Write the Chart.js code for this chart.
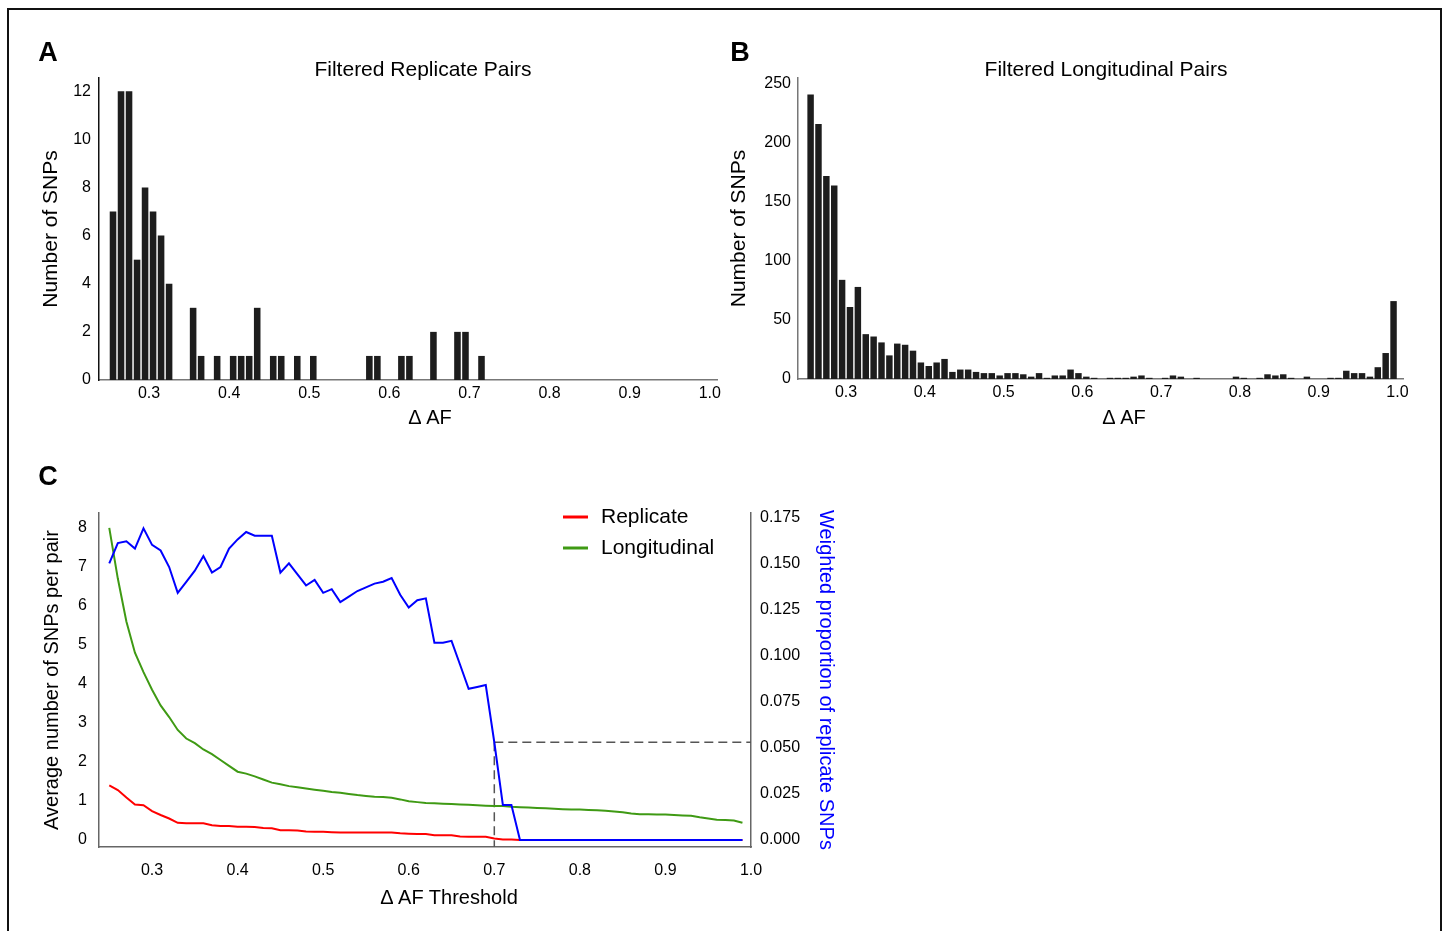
<!DOCTYPE html>
<html>
<head>
<meta charset="utf-8">
<script src="https://cdn.jsdelivr.net/npm/chart.js@4.4.1/dist/chart.umd.min.js"></script>
<style>
  html, body { margin: 0; padding: 0; background: #fff; }
  body { width: 1444px; height: 931px; position: relative; overflow: hidden;
         font-family: "Liberation Sans", Arial, sans-serif; color: #000; }
  .frame { position: absolute; left: 7px; top: 8px; width: 1431px; height: 960px;
           border: 2px solid #111; border-bottom: none; }
  canvas { position: absolute; }
  .lbl { position: absolute; transform: translate(-50%, -50%); white-space: nowrap; font-size: 20px; }
  .ttl { font-size: 21px; }
  .letter { font-weight: bold; font-size: 27px; }
</style>
</head>
<body>
<div class="frame"></div>

<canvas id="histRep" width="725" height="395" style="left:10px;top:40px;width:725px;height:395px"></canvas>
<canvas id="histLong" width="715" height="395" style="left:720px;top:40px;width:715px;height:395px"></canvas>
<canvas id="threshChart" width="850" height="460" style="left:10px;top:460px;width:850px;height:460px"></canvas>

<div class="lbl letter" style="left:48px;top:52px">A</div>
<div class="lbl letter" style="left:740px;top:52px">B</div>
<div class="lbl letter" style="left:48px;top:476px">C</div>
<div class="lbl ttl" style="left:423px;top:69px">Filtered Replicate Pairs</div>
<div class="lbl ttl" style="left:1106px;top:69px">Filtered Longitudinal Pairs</div>
<div class="lbl" style="left:430px;top:417px">Δ AF</div>
<div class="lbl" style="left:1124px;top:417px">Δ AF</div>
<div class="lbl" style="left:449px;top:897px">Δ AF Threshold</div>

<script>
// ---- data ----
// histogram bins (width 0.01), given by their centres
const binCenters = [
  0.255,0.265,0.275,0.285,0.295,0.305,0.315,0.325,0.335,0.345,
  0.355,0.365,0.375,0.385,0.395,0.405,0.415,0.425,0.435,0.445,
  0.455,0.465,0.475,0.485,0.495,0.505,0.515,0.525,0.535,0.545,
  0.555,0.565,0.575,0.585,0.595,0.605,0.615,0.625,0.635,0.645,
  0.655,0.665,0.675,0.685,0.695,0.705,0.715,0.725,0.735,0.745,
  0.755,0.765,0.775,0.785,0.795,0.805,0.815,0.825,0.835,0.845,
  0.855,0.865,0.875,0.885,0.895,0.905,0.915,0.925,0.935,0.945,
  0.955,0.965,0.975,0.985,0.995
];

// A: replicate pairs
const replicateCounts = [
  7,12,12,5,8,7,6,4,0,0,
  3,1,0,1,0,1,1,1,3,0,
  1,1,0,1,0,1,0,0,0,0,
  0,0,1,1,0,0,1,1,0,0,
  2,0,0,2,2,0,1,0,0,0,
  0,0,0,0,0,0,0,0,0,0,
  0,0,0,0,0,0,0,0,0,0,
  0,0,0,0,0
];

// B: longitudinal pairs
const longitudinalCounts = [
  241,216,172,164,84,61,78,38,36,31,
  20,30,29,24,14,11,14,17,6,8,
  8,6,5,5,3,5,5,4,2,5,
  1,3,3,8,5,2,1,0,1,1,
  1,2,3,1,0,1,3,2,0,1,
  0,0,0,0,2,1,0,1,4,3,
  4,1,0,2,0,0,1,1,7,5,
  5,2,10,22,66
];

// C: thresholds
const thresholds = [
  0.25,0.26,0.27,0.28,0.29,0.30,0.31,0.32,0.33,0.34,
  0.35,0.36,0.37,0.38,0.39,0.40,0.41,0.42,0.43,0.44,
  0.45,0.46,0.47,0.48,0.49,0.50,0.51,0.52,0.53,0.54,
  0.55,0.56,0.57,0.58,0.59,0.60,0.61,0.62,0.63,0.64,
  0.65,0.66,0.67,0.68,0.69,0.70,0.71,0.72,0.73,0.74,
  0.75,0.76,0.77,0.78,0.79,0.80,0.81,0.82,0.83,0.84,
  0.85,0.86,0.87,0.88,0.89,0.90,0.91,0.92,0.93,0.94,
  0.95,0.96,0.97,0.98,0.99
];

const replicateAvg = [
  1.40,1.28,1.09,0.91,0.89,0.74,0.64,0.55,0.44,0.43,
  0.43,0.43,0.38,0.36,0.36,0.34,0.34,0.33,0.31,0.30,
  0.25,0.25,0.24,0.22,0.21,0.21,0.20,0.19,0.19,0.19,
  0.19,0.19,0.19,0.19,0.17,0.16,0.15,0.15,0.12,0.12,
  0.12,0.09,0.08,0.08,0.08,0.04,0.01,0.01,0,0,
  0,0,0,0,0,0,0,0,0,0,
  0,0,0,0,0,0,0,0,0,0,
  0,0,0,0,0
];

const longitudinalAvg = [
  8.0,6.7,5.6,4.8,4.3,3.85,3.45,3.15,2.82,2.6,
  2.48,2.32,2.2,2.05,1.9,1.75,1.7,1.63,1.55,1.47,
  1.43,1.38,1.35,1.32,1.29,1.26,1.23,1.21,1.18,1.15,
  1.13,1.11,1.10,1.08,1.04,0.99,0.97,0.95,0.94,0.93,
  0.92,0.91,0.90,0.89,0.88,0.87,0.87,0.85,0.84,0.83,
  0.82,0.81,0.80,0.79,0.78,0.78,0.77,0.76,0.75,0.73,
  0.71,0.68,0.66,0.66,0.65,0.65,0.64,0.63,0.62,0.58,
  0.55,0.52,0.51,0.50,0.44
];

const weightedProp = [
  0.150,0.161,0.162,0.158,0.169,0.160,0.157,0.148,0.134,0.140,
  0.146,0.154,0.145,0.148,0.158,0.163,0.167,0.165,0.165,0.165,
  0.145,0.150,0.144,0.138,0.141,0.134,0.136,0.129,0.132,0.135,
  0.137,0.139,0.140,0.142,0.133,0.126,0.130,0.131,0.107,0.107,
  0.108,0.095,0.082,0.083,0.084,0.053,0.019,0.019,0,0,
  0,0,0,0,0,0,0,0,0,0,
  0,0,0,0,0,0,0,0,0,0,
  0,0,0,0,0
];

const thresholdAF = 0.70;
const thresholdProp = 0.053;

// tick labels
const afTicks = [0.3,0.4,0.5,0.6,0.7,0.8,0.9,1.0];
const repTicks = [0,2,4,6,8,10,12];
const longTicks = [0,50,100,150,200,250];
const avgTicks = [0,1,2,3,4,5,6,7,8];
const propTicks = [0,0.025,0.05,0.075,0.1,0.125,0.15,0.175];

// ---- styling ----
Chart.defaults.font.family = '"Liberation Sans", Arial, sans-serif';
Chart.defaults.color = '#000';
Chart.defaults.animation = false;

const tickFont = { size: 16 };
const titleFont = { size: 21 };
const titleFontC = { size: 20 };
const noGrid = { display: false, drawTicks: false, tickLength: 0 };
const setTicks = arr => scale => { scale.ticks = arr.map(v => ({ value: v })); };

function histChart(id, counts, yTicks, yMax, xMin, xMax, layout) {
  const ctx = document.getElementById(id).getContext('2d');
  return new Chart(ctx, {
    type: 'bar',
    data: {
      datasets: [{
        data: binCenters.map((c, i) => ({ x: c, y: counts[i] })),
        backgroundColor: '#1d1d1d',
        borderWidth: 0,
        barPercentage: 0.82,
        categoryPercentage: 1.0
      }]
    },
    options: {
      responsive: false,
      layout: { padding: { top: 38, right: layout.padRight, left: 0, bottom: 0 } },
      plugins: { legend: { display: false }, tooltip: { enabled: false } },
      scales: {
        x: {
          type: 'linear',
          min: xMin, max: xMax,
          offset: false,
          grid: { ...noGrid, offset: false },
          border: { color: '#777', width: 1.5 },
          afterBuildTicks: setTicks(afTicks),
          afterFit: s => { s.height = layout.xHeight; },
          ticks: { font: tickFont, padding: 4, maxRotation: 0, callback: v => v.toFixed(1) }
        },
        y: {
          min: 0, max: yMax,
          grid: noGrid,
          border: { color: layout.yBorder, width: 1.5 },
          afterBuildTicks: setTicks(yTicks),
          afterFit: s => { s.width = layout.yWidth; },
          ticks: { font: tickFont, padding: layout.yTickPad },
          title: { display: true, text: 'Number of SNPs', font: titleFont,
                   padding: { top: layout.yTitlePad, bottom: 0 } }
        }
      }
    }
  });
}

// Panel A
histChart('histRep', replicateCounts, repTicks, 12.55, 0.2375, 1.009,
  { padRight: 18, xHeight: 55, yWidth: 89, yTickPad: 8, yTitlePad: 29, yBorder: '#111' });

// Panel B
histChart('histLong', longitudinalCounts, longTicks, 255, 0.239, 1.007,
  { padRight: 32, xHeight: 56, yWidth: 78, yTickPad: 7, yTitlePad: 7, yBorder: '#777' });

// Panel C legend, drawn inside the plot area
const legendLabels = ['Replicate', 'Longitudinal'];
const insideLegend = {
  id: 'insideLegend',
  afterDraw(chart) {
    const c = chart.ctx;
    c.save();
    c.font = '21px "Liberation Sans", Arial, sans-serif';
    c.textBaseline = 'middle';
    let row = 0;
    chart.data.datasets.forEach(ds => {
      if (!legendLabels.includes(ds.label)) return;
      const y = 57 + row * 31;
      c.strokeStyle = ds.borderColor;
      c.lineWidth = 3;
      c.beginPath();
      c.moveTo(553, y);
      c.lineTo(578, y);
      c.stroke();
      c.fillStyle = '#000';
      c.fillText(ds.label, 591, y);
      row++;
    });
    c.restore();
  }
};

const leftMin = -0.18, leftMax = 8.38;
const rightMin = -0.0038, rightMax = 0.1773;
const pts = arr => thresholds.map((t, i) => ({ x: t, y: arr[i] }));

new Chart(document.getElementById('threshChart').getContext('2d'), {
  type: 'line',
  data: {
    datasets: [
      { label: 'Weighted proportion', data: pts(weightedProp), yAxisID: 'y2',
        borderColor: '#0000ff', borderWidth: 2, pointRadius: 0, tension: 0 },
      { label: 'Replicate', data: pts(replicateAvg), yAxisID: 'y',
        borderColor: '#ff0000', borderWidth: 2, pointRadius: 0, tension: 0 },
      { label: 'Longitudinal', data: pts(longitudinalAvg), yAxisID: 'y',
        borderColor: '#3f9a14', borderWidth: 2, pointRadius: 0, tension: 0 },
      { label: 'cut-h', data: [{ x: thresholdAF, y: thresholdProp }, { x: 1.0, y: thresholdProp }],
        yAxisID: 'y2', borderColor: '#555', borderWidth: 1.5, borderDash: [9, 5], pointRadius: 0 },
      { label: 'cut-v', data: [{ x: thresholdAF, y: thresholdProp }, { x: thresholdAF, y: rightMin }],
        yAxisID: 'y2', borderColor: '#555', borderWidth: 1.5, borderDash: [9, 5], pointRadius: 0 }
    ]
  },
  options: {
    responsive: false,
    layout: { padding: { top: 53, right: 0, left: 0, bottom: 0 } },
    plugins: { legend: { display: false }, tooltip: { enabled: false } },
    scales: {
      x: {
        type: 'linear',
        min: 0.238, max: 1.0,
        grid: noGrid,
        border: { color: '#666', width: 1.5 },
        afterBuildTicks: setTicks(afTicks),
        afterFit: s => { s.height = 73; },
        ticks: { font: tickFont, padding: 14, maxRotation: 0, callback: v => v.toFixed(1) }
      },
      y: {
        position: 'left',
        min: leftMin, max: leftMax,
        grid: noGrid,
        border: { color: '#666', width: 1.5 },
        afterBuildTicks: setTicks(avgTicks),
        afterFit: s => { s.width = 89; },
        ticks: { font: tickFont, padding: 12 },
        title: { display: true, text: 'Average number of SNPs per pair', font: titleFontC,
                 padding: { top: 30, bottom: 0 } }
      },
      y2: {
        position: 'right',
        min: rightMin, max: rightMax,
        grid: noGrid,
        border: { color: '#666', width: 1.5 },
        afterBuildTicks: setTicks(propTicks),
        afterFit: s => { s.width = 109; },
        ticks: { font: tickFont, padding: 9, callback: v => v.toFixed(3) },
        title: { display: true, text: 'Weighted proportion of replicate SNPs', font: titleFontC,
                 color: '#0000ff', padding: { top: 22, bottom: 0 } }
      }
    }
  },
  plugins: [insideLegend]
});
</script>
</body>
</html>
